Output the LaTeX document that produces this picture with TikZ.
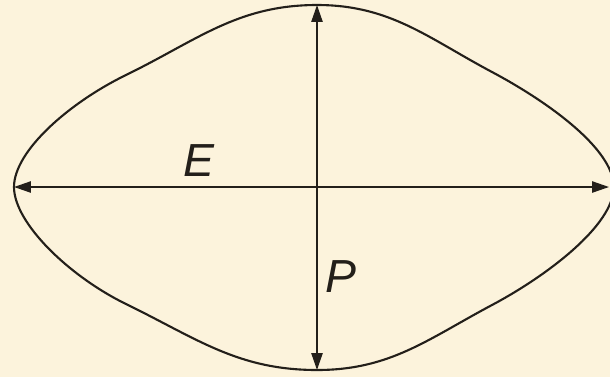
\documentclass[tikz,border=0pt]{standalone}
\usepackage{fontspec}
\setmainfont{Liberation Sans}
\usetikzlibrary{arrows.meta}
\usepackage{xcolor}
\definecolor{paper}{HTML}{FCF3DC}
\definecolor{ink}{HTML}{231F1A}

\begin{document}
\begin{tikzpicture}[
  outline/.style={ink, line width=1.5pt},
  dimline/.style={ink, line width=1.1pt, {Triangle[length=0.42cm,width=0.28cm]}-{Triangle[length=0.42cm,width=0.28cm]}},
  letter/.style={text=ink, font=\fontsize{33}{35}\selectfont\itshape, inner sep=0pt},
]
  % Background and frame
  \fill[paper] (-7.925, -4.75) rectangle (7.325, 4.675);
  \clip (-7.925, -4.75) rectangle (7.325, 4.675);

  % Outline points
  \coordinate (W)   at (-7.575, 0);
  \coordinate (E)   at (7.42, 0);
  \coordinate (N)   at (0, 4.55);
  \coordinate (S)   at (0, -4.575);
  \coordinate (NWm) at (-4.775, 2.8);
  \coordinate (NEm) at (4.375, 2.875);
  \coordinate (SEm) at (4.375, -2.95);
  \coordinate (SWm) at (-4.775, -2.925);

  % Outline
  \draw[outline] (W) .. controls +(0, 0.9) and +(206:1.58) .. (NWm)
    to[out=26, in=180] (N) to[out=0, in=152] (NEm)
    .. controls +(-28:1.58) and +(0, 0.95) .. (E)
    .. controls +(0, -0.95) and +(28:1.58) .. (SEm)
    to[out=208, in=0] (S) to[out=180, in=-26] (SWm)
    .. controls +(154:1.58) and +(0, -0.9) .. (W) -- cycle;

  % Axes
  \coordinate (Etip) at (7.3, 0);
  \draw[dimline] (W) -- (Etip);
  \draw[dimline] (N) -- (S);

  % Labels
  \node[letter] (lblE) at (-2.95, 0.65) {E};
  \node[letter] (lblP) at (0.6, -2.25) {P};
\end{tikzpicture}
\end{document}
